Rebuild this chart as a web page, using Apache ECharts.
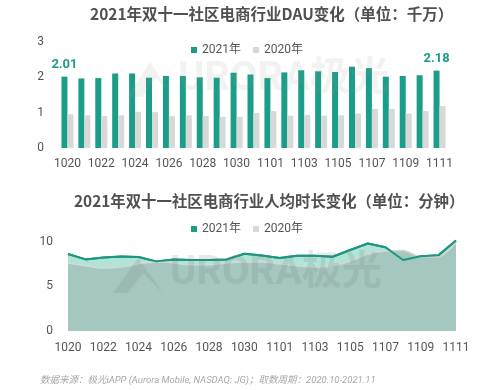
<!DOCTYPE html>
<html>
<head>
<meta charset="utf-8">
<style>html,body{margin:0;padding:0;background:#fff;}#c{width:500px;height:390px;}</style>
<script src="https://cdn.jsdelivr.net/npm/echarts@6/dist/echarts.min.js"></script>
</head>
<body>
<div id="c"></div>
<script>
const categories = ['1020','1021','1022','1023','1024','1025','1026','1027','1028','1029','1030','1031',
  '1101','1102','1103','1104','1105','1106','1107','1108','1109','1110','1111'];
const dau2021 = [2.01,1.96,1.97,2.10,2.10,1.98,2.03,2.03,1.99,1.98,2.12,2.07,1.97,2.13,2.19,2.16,2.14,2.29,2.25,2.01,2.03,2.05,2.18];
const dau2020 = [0.95,0.92,0.90,0.92,1.02,1.01,0.90,0.92,0.90,0.88,0.88,0.99,1.04,0.91,0.93,0.91,0.92,0.97,1.10,1.10,0.97,1.04,1.18];
const dur2021 = [8.6,8.0,8.2,8.33,8.26,7.78,8.0,7.93,7.93,8.0,8.63,8.44,8.15,8.41,8.41,8.3,9.05,9.78,9.36,7.93,8.35,8.45,10.1];
const dur2020 = [7.6,7.3,7.05,7.15,7.5,7.75,7.6,7.4,7.4,7.6,7.7,7.7,7.5,7.3,7.15,7.3,7.8,8.6,8.95,9.0,8.3,8.3,9.9];
const seriesNames = ['2021年','2020年'];
const titles = ['2021年双十一社区电商行业DAU变化（单位：千万）','2021年双十一社区电商行业人均时长变化（单位：分钟）'];
const footnote = '数据来源：极光iAPP (Aurora Mobile, NASDAQ: JG)；取数周期：2020.10-2021.11';

const TEAL = '#1b9e89';
const FONT = 'Roboto, "Noto Sans CJK SC", sans-serif';
const last = categories.length - 1;
function edgeLabels(arr, color) {
  return arr.map((v, i) => (i === 0 || i === last) ? {
    value: v,
    label: {show: true, position: 'top', distance: 5, color: color, fontWeight: 'bold', fontSize: 13, fontFamily: FONT}
  } : v);
}

const chart = echarts.init(document.getElementById('c'), null, {renderer: 'canvas'});
const axisLabelStyle = {color: '#555', fontSize: 12, fontFamily: FONT};
chart.setOption({
  animation: false,
  backgroundColor: '#fff',
  title: [
    {text: titles[0], left: 90, top: 6, padding: 0,
     textStyle: {fontSize: 15.5, fontWeight: 'bold', color: '#505050', fontFamily: '"Noto Sans CJK SC", sans-serif'}},
    {text: titles[1], left: 74, top: 193, padding: 0,
     textStyle: {fontSize: 15.4, fontWeight: 'bold', color: '#505050', fontFamily: '"Noto Sans CJK SC", sans-serif'}}
  ],
  legend: [
    {data: seriesNames, left: 191, top: 44, icon: 'rect', itemWidth: 6, itemHeight: 6, itemGap: 12,
     textStyle: {color: '#555', fontSize: 12, fontFamily: FONT}, padding: 0,
     selectedMode: false},
    {data: seriesNames, left: 191, top: 223, icon: 'rect', itemWidth: 6, itemHeight: 6, itemGap: 12,
     textStyle: {color: '#555', fontSize: 12, fontFamily: FONT}, padding: 0,
     selectedMode: false}
  ],
  grid: [
    {left: 59, right: 52, top: 41.5, bottom: 242},
    {left: 68, right: 44, top: 241.5, bottom: 59}
  ],
  xAxis: [
    {type: 'category', gridIndex: 0, data: categories, boundaryGap: true,
     axisLine: {show: false}, axisTick: {show: false},
     axisLabel: Object.assign({interval: 1, margin: 10}, axisLabelStyle)},
    {type: 'category', gridIndex: 1, data: categories, boundaryGap: false,
     axisLine: {show: false}, axisTick: {show: false},
     axisLabel: Object.assign({interval: 1, margin: 11}, axisLabelStyle)}
  ],
  yAxis: [
    {type: 'value', gridIndex: 0, min: 0, max: 3, interval: 1,
     axisLine: {show: false}, axisTick: {show: false}, splitLine: {show: false},
     axisLabel: Object.assign({margin: 15}, axisLabelStyle)},
    {type: 'value', gridIndex: 1, min: 0, max: 10, interval: 5,
     axisLine: {show: false}, axisTick: {show: false}, splitLine: {show: false},
     axisLabel: Object.assign({margin: 15}, axisLabelStyle)}
  ],
  series: [
    {name: seriesNames[0], type: 'bar', xAxisIndex: 0, yAxisIndex: 0, data: edgeLabels(dau2021, TEAL),
     barWidth: 6, barGap: '0%', itemStyle: {color: TEAL}},
    {name: seriesNames[1], type: 'bar', xAxisIndex: 0, yAxisIndex: 0, data: dau2020,
     barWidth: 6, barGap: '0%', itemStyle: {color: '#d8d8d8'}},
    {name: seriesNames[0], type: 'line', xAxisIndex: 1, yAxisIndex: 1, data: dur2021,
     symbol: 'none', clip: false, z: 2,
     lineStyle: {color: '#1f9682', width: 2},
     itemStyle: {color: '#4fb8a6'},
     areaStyle: {color: '#b0e4d7', opacity: 1}},
    {name: seriesNames[1], type: 'line', xAxisIndex: 1, yAxisIndex: 1, data: dur2020,
     symbol: 'none', smooth: 0.3, z: 3,
     lineStyle: {color: '#d6d6d6', width: 1.5},
     itemStyle: {color: '#dcdcdc'},
     areaStyle: {color: '#a4c8c0', opacity: 1}},
    {name: seriesNames[0], type: 'line', xAxisIndex: 1, yAxisIndex: 1, data: edgeLabels(dur2021, '#2aa08c'),
     symbol: 'none', clip: false, z: 4,
     lineStyle: {color: '#1f9682', width: 2},
     itemStyle: {color: '#4fb8a6'}}
  ],
  graphic: [
    {type: 'polygon', z: 100, silent: true,
     shape: {points: [[150,62],[127,97],[142,97],[156,78],[173,97]]},
     style: {fill: 'rgba(150,150,150,0.12)'}},
    {type: 'text', z: 100, silent: true, left: 178, top: 60,
     style: {text: 'URORA极光', fontSize: 40, fontWeight: 'bold', fontFamily: 'Roboto, "Noto Sans CJK SC", sans-serif',
       fill: 'rgba(150,150,150,0.12)'}},
    {type: 'polygon', z: 100, silent: true,
     shape: {points: [[138,258],[113,293],[128,293],[143,273],[163,293]]},
     style: {fill: 'rgba(110,110,110,0.15)'}},
    {type: 'text', z: 100, silent: true, left: 170, top: 254,
     style: {text: 'URORA极光', fontSize: 40, fontWeight: 'bold', fontFamily: 'Roboto, "Noto Sans CJK SC", sans-serif',
       fill: 'rgba(110,110,110,0.15)'}},
    {type: 'text', left: 40, top: 376, silent: true,
     style: {text: footnote, fontSize: 9.5, fontStyle: 'italic', fill: '#a8a8a8', fontFamily: FONT}}
  ]
});
</script>
</body>
</html>
